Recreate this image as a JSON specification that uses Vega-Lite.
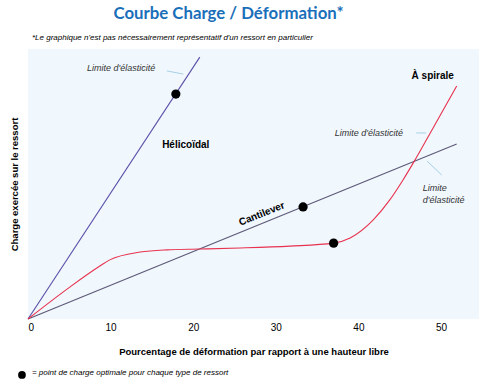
{
  "$schema": "https://vega.github.io/schema/vega-lite/v6.json",
  "autosize": {"type": "none"},
  "padding": {"left": 28, "top": 49, "right": 2, "bottom": 69},
  "width": 451,
  "height": 270,
  "background": "white",
  "config": {
    "view": {"fill": "#f0f7fd", "stroke": null},
    "font": "Liberation Sans"
  },
  "title": {
    "text": "Courbe Charge / Déformation*",
    "font": "Lato",
    "fontSize": 16.8,
    "fontWeight": "bold",
    "color": "#1a6fba",
    "anchor": "middle",
    "frame": "group",
    "dx": -25,
    "offset": 11
  },
  "datasets": {
    "lines": [
      {"serie": "Hélicoïdal", "x": 0, "y": 0},
      {"serie": "Hélicoïdal", "x": 20.8, "y": 97.0},
      {"serie": "Cantilever", "x": 0, "y": 0},
      {"serie": "Cantilever", "x": 51.9, "y": 64.8},
      {"serie": "À spirale", "x": 0, "y": 0},
      {"serie": "À spirale", "x": 5.1, "y": 11.9},
      {"serie": "À spirale", "x": 8.7, "y": 19.6},
      {"serie": "À spirale", "x": 9.9, "y": 21.9},
      {"serie": "À spirale", "x": 13.6, "y": 24.8},
      {"serie": "À spirale", "x": 16.8, "y": 25.6},
      {"serie": "À spirale", "x": 20.8, "y": 25.9},
      {"serie": "À spirale", "x": 25.7, "y": 26.3},
      {"serie": "À spirale", "x": 31.7, "y": 27.0},
      {"serie": "À spirale", "x": 37.0, "y": 28.1},
      {"serie": "À spirale", "x": 39.0, "y": 30.0},
      {"serie": "À spirale", "x": 41.8, "y": 36.7},
      {"serie": "À spirale", "x": 43.8, "y": 44.1},
      {"serie": "À spirale", "x": 45.4, "y": 51.5},
      {"serie": "À spirale", "x": 46.7, "y": 58.1},
      {"serie": "À spirale", "x": 48.7, "y": 68.9},
      {"serie": "À spirale", "x": 51.9, "y": 86.3}
    ],
    "dots": [
      {"serie": "Hélicoïdal", "x": 17.9, "y": 83.3},
      {"serie": "Cantilever", "x": 33.3, "y": 41.5},
      {"serie": "À spirale", "x": 37.0, "y": 28.1}
    ],
    "bold": [
      {"label": "Hélicoïdal", "x": 19.1, "y": 64.4, "angle": 0},
      {"label": "À spirale", "x": 49.0, "y": 90.0, "angle": 0},
      {"label": "Cantilever", "x": 28.3, "y": 38.9, "angle": 338}
    ],
    "italicRight": [
      {"label": "Limite d'élasticité", "x": 15.4, "y": 93.0},
      {"label": "Limite d'élasticité", "x": 45.4, "y": 68.9}
    ],
    "italicLeft": [
      {"label": "Limite\nd'élasticité", "x": 47.8, "y": 48.5}
    ],
    "leaders": [
      {"x": 16.8, "y": 91.9, "x2": 18.8, "y2": 90.7},
      {"x": 47.0, "y": 68.9, "x2": 48.2, "y2": 68.9},
      {"x": 48.3, "y": 58.5, "x2": 50.1, "y2": 53.3}
    ],
    "notes": [
      {"label": "*Le graphique n'est pas nécessairement représentatif d'un ressort en particulier", "x": 0.48, "y": 104.1},
      {"label": "= point de charge optimale pour chaque type de ressort", "x": 0.48, "y": -20.0}
    ],
    "legendDot": [
      {"x": -0.73, "y": -20.7}
    ]
  },
  "layer": [
    {
      "data": {"name": "leaders"},
      "mark": {"type": "rule", "color": "#a9cfe8", "strokeWidth": 1},
      "encoding": {
        "x": {"field": "x", "type": "quantitative"},
        "y": {"field": "y", "type": "quantitative"},
        "x2": {"field": "x2"},
        "y2": {"field": "y2"}
      }
    },
    {
      "data": {"name": "lines"},
      "mark": {"type": "line", "interpolate": "monotone", "strokeWidth": 1.1},
      "encoding": {
        "x": {
          "field": "x", "type": "quantitative",
          "scale": {"domain": [0, 54.6], "nice": false, "zero": false},
          "axis": {
            "values": [0, 10, 20, 30, 40, 50],
            "ticks": false, "domain": false, "grid": false,
            "labelFontSize": 10, "labelColor": "#000", "labelPadding": 3,
            "title": "Pourcentage de déformation par rapport à une hauteur libre",
            "titleFontSize": 9.5, "titleFontWeight": "bold", "titleColor": "#000",
            "titlePadding": 14
          }
        },
        "y": {
          "field": "y", "type": "quantitative",
          "scale": {"domain": [0, 100], "nice": false},
          "axis": {
            "labels": false, "ticks": false, "domain": false, "grid": false,
            "title": "Charge exercée sur le ressort",
            "titleFontSize": 9.5, "titleFontWeight": "bold", "titleColor": "#000",
            "titlePadding": 9
          }
        },
        "color": {
          "field": "serie", "type": "nominal",
          "scale": {"domain": ["Hélicoïdal", "Cantilever", "À spirale"], "range": ["#5b50a8", "#5c5877", "#e8324f"]},
          "legend": null
        },
        "detail": {"field": "serie"}
      }
    },
    {
      "data": {"name": "dots"},
      "mark": {"type": "circle", "color": "#000", "opacity": 1, "size": 85},
      "encoding": {
        "x": {"field": "x", "type": "quantitative"},
        "y": {"field": "y", "type": "quantitative"}
      }
    },
    {
      "data": {"name": "legendDot"},
      "mark": {"type": "circle", "color": "#000", "opacity": 1, "size": 60},
      "encoding": {
        "x": {"field": "x", "type": "quantitative"},
        "y": {"field": "y", "type": "quantitative"}
      }
    },
    {
      "data": {"name": "bold"},
      "mark": {"type": "text", "fontWeight": "bold", "fontSize": 10, "color": "#000", "align": "center", "baseline": "middle"},
      "encoding": {
        "x": {"field": "x", "type": "quantitative"},
        "y": {"field": "y", "type": "quantitative"},
        "text": {"field": "label"},
        "angle": {"field": "angle", "type": "quantitative", "scale": null}
      }
    },
    {
      "data": {"name": "italicRight"},
      "mark": {"type": "text", "fontStyle": "italic", "fontSize": 9, "color": "#333", "align": "right", "baseline": "middle"},
      "encoding": {
        "x": {"field": "x", "type": "quantitative"},
        "y": {"field": "y", "type": "quantitative"},
        "text": {"field": "label"}
      }
    },
    {
      "data": {"name": "italicLeft"},
      "mark": {"type": "text", "fontStyle": "italic", "fontSize": 9, "color": "#333", "align": "left", "baseline": "middle", "lineBreak": "\n", "lineHeight": 12},
      "encoding": {
        "x": {"field": "x", "type": "quantitative"},
        "y": {"field": "y", "type": "quantitative"},
        "text": {"field": "label"}
      }
    },
    {
      "data": {"name": "notes"},
      "mark": {"type": "text", "fontStyle": "italic", "fontSize": 8, "color": "#000", "align": "left", "baseline": "middle"},
      "encoding": {
        "x": {"field": "x", "type": "quantitative"},
        "y": {"field": "y", "type": "quantitative"},
        "text": {"field": "label"}
      }
    }
  ]
}
